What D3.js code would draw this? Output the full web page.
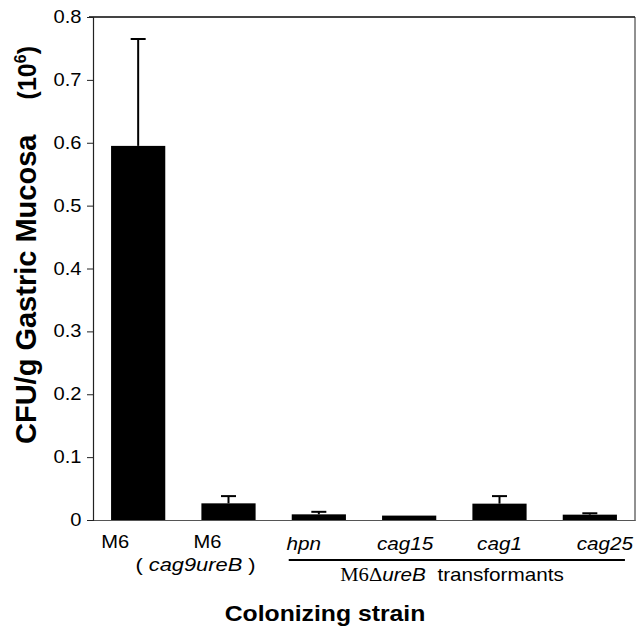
<!DOCTYPE html>
<html><head><meta charset="utf-8">
<script src="https://cdn.jsdelivr.net/npm/d3@7"></script>
<style>body{margin:0;background:#fff}svg{display:block}text{font-family:"Liberation Sans",Arial,sans-serif;fill:#000}</style>
</head><body>
<script>
// ---- data ----
const categories = ["M6", "M6 (cag9ureB)", "hpn", "cag15", "cag1", "cag25"];
const means = [0.595, 0.0265, 0.009, 0.007, 0.026, 0.0085];
const errors = [0.17, 0.0115, 0.004, 0, 0.012, 0.0022];
const yTicks = [0, 0.1, 0.2, 0.3, 0.4, 0.5, 0.6, 0.7, 0.8];
const yTickLabels = ["0", "0.1", "0.2", "0.3", "0.4", "0.5", "0.6", "0.7", "0.8"];

// ---- layout ----
const W = 639, H = 631;
const L = 93, R = 635, T = 17, B = 520;
const SX = 1.15; // horizontal stretch of the lettering in the original figure
const svg = d3.select("body").append("svg").attr("width", W).attr("height", H);

const x = d3.scaleBand().domain(categories).range([L, R]).paddingInner(0.4).paddingOuter(0.2);
const y = d3.scaleLinear().domain([0, 0.8]).range([B, T]);

function htext(px, py, size, anchor, sx) {
  return svg.append("text").attr("transform", `translate(${px},${py}) scale(${sx || SX},1)`)
    .attr("text-anchor", anchor || "middle").attr("font-size", size);
}

// frame
svg.append("line").attr("x1", L - 4).attr("x2", R).attr("y1", T).attr("y2", T)
  .attr("stroke", "#444").attr("stroke-width", 2);
svg.append("line").attr("x1", R).attr("x2", R).attr("y1", T).attr("y2", B + 1)
  .attr("stroke", "#222").attr("stroke-width", 1);

// bottom axis line
const xAxis = svg.append("g").attr("transform", `translate(0,${B})`)
  .call(d3.axisBottom(x).tickSize(0).tickFormat(""));
xAxis.select(".domain").attr("stroke", "#555").attr("stroke-width", 1.2);

// left axis
const yAxis = svg.append("g").attr("transform", `translate(${L},0)`)
  .call(d3.axisLeft(y).tickValues(yTicks).tickSize(6).tickPadding(5)
    .tickFormat((d, i) => yTickLabels[i]));
yAxis.select(".domain").attr("stroke", "#222").attr("stroke-width", 1.2);
yAxis.selectAll(".tick line").attr("stroke", "#222");
yAxis.selectAll(".tick text").attr("font-size", 17.5)
  .attr("font-family", '"Liberation Sans",Arial,sans-serif')
  .attr("x", -11.5 / SX).attr("transform", `scale(${SX},1)`);

// bars
svg.append("g").selectAll("rect").data(categories).join("rect")
  .attr("x", d => x(d)).attr("width", x.bandwidth())
  .attr("y", (d, i) => y(means[i])).attr("height", (d, i) => B - y(means[i]))
  .attr("fill", "#000");

// error bars
const eg = svg.append("g").attr("stroke", "#000").attr("stroke-width", 2);
categories.forEach((c, i) => {
  if (errors[i] <= 0) return;
  const cx = x(c) + x.bandwidth() / 2;
  eg.append("line").attr("x1", cx).attr("x2", cx).attr("y1", y(means[i])).attr("y2", y(means[i] + errors[i]));
  eg.append("line").attr("x1", cx - 7.5).attr("x2", cx + 7.5).attr("y1", y(means[i] + errors[i])).attr("y2", y(means[i] + errors[i]));
});

// category labels
const labelDx = [-23, -21, -15, -4, 0, 15];
const firstLine = ["M6", "M6", "hpn", "cag15", "cag1", "cag25"];
categories.forEach((c, i) => {
  const cx = x(c) + x.bandwidth() / 2 + labelDx[i];
  const italic = i >= 2;
  htext(cx, italic ? 550 : 548, italic ? 18 : 17.5)
    .attr("font-style", italic ? "italic" : "normal").text(firstLine[i]);
});
// second line for M6 (cag9ureB)
{
  const c = categories[1];
  const cx = x(c) + x.bandwidth() / 2 - 33;
  const t = htext(cx, 571, 19);
  t.append("tspan").text("( ");
  t.append("tspan").attr("font-style", "italic").text("cag9ureB");
  t.append("tspan").text(" )");
}
// group underline + group label
{
  const x0 = x(categories[2]) - 3;
  const x1 = x(categories[5]) + x.bandwidth() + 8;
  svg.append("line").attr("x1", x0).attr("x2", x1).attr("y1", 560).attr("y2", 560)
    .attr("stroke", "#000").attr("stroke-width", 2);
  const t = htext(452, 581, 18);
  t.append("tspan").attr("font-family", '"Liberation Serif","Times New Roman",serif').text("M6Δ");
  t.append("tspan").attr("font-style", "italic").text("ureB");
  t.append("tspan").text("\u00a0 transformants");
}

// axis titles
htext(325, 621, 22.5, "middle", 1.1).attr("font-weight", "bold").text("Colonizing strain");

svg.append("text").attr("transform", "translate(36,444) rotate(-90)")
  .attr("text-anchor", "start").attr("font-size", 29).attr("font-weight", "bold")
  .text("CFU/g Gastric Mucosa");
{
  const t = svg.append("text").attr("transform", "translate(36,46) rotate(-90)")
    .attr("text-anchor", "end").attr("font-size", 25).attr("font-weight", "bold");
  t.append("tspan").text("(10");
  t.append("tspan").attr("font-size", 16).attr("dy", -10).text("6");
  t.append("tspan").attr("dy", 10).text(")");
}
</script>
</body></html>
